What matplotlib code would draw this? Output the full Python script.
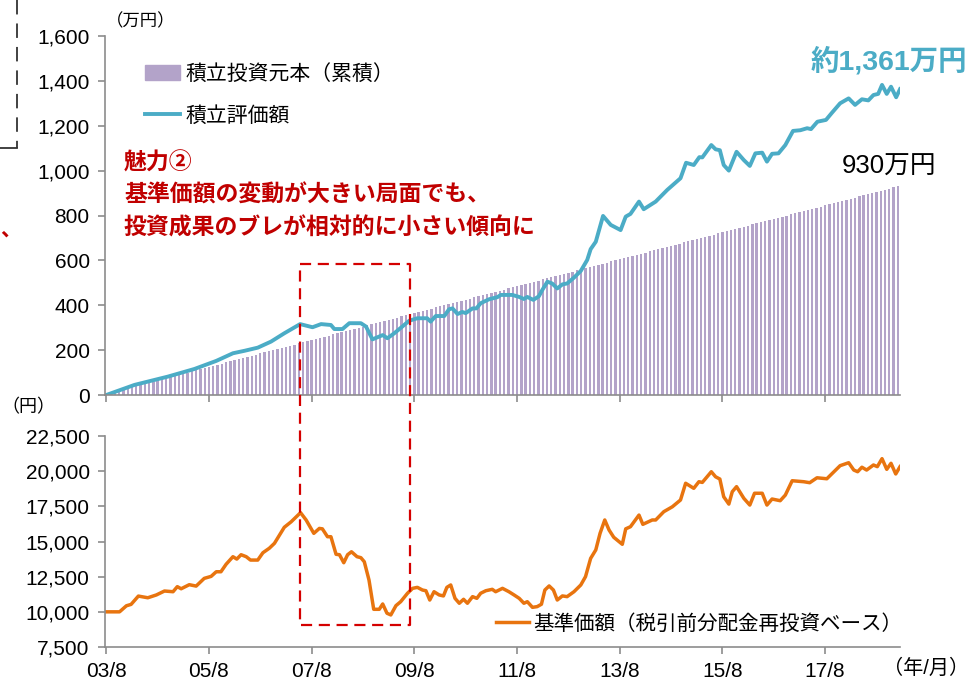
import matplotlib
matplotlib.use("Agg")
import matplotlib.pyplot as plt
from matplotlib.lines import Line2D
from matplotlib.patches import Patch
from matplotlib.ticker import FuncFormatter

plt.rcParams['font.family'] = ['Liberation Sans', 'Noto Sans CJK JP', 'DejaVu Sans']

# ---- data (months counted from 2003/08) ----
principal = [
    5, 10, 15, 20, 25, 30, 35, 40, 45, 50, 55, 60, 65, 70, 75, 80, 85, 90, 95, 100,
    105, 110, 115, 120, 125, 130, 135, 140, 145, 150, 155, 160, 165, 170, 175, 180, 185, 190, 195, 200,
    205, 210, 215, 220, 225, 230, 235, 240, 245, 250, 255, 260, 265, 270, 275, 280, 285, 290, 295, 300,
    305, 310, 315, 320, 325, 330, 335, 340, 345, 350, 355, 360, 365, 370, 375, 380, 385, 390, 395, 400,
    405, 410, 415, 420, 425, 430, 435, 440, 445, 450, 455, 460, 465, 470, 475, 480, 485, 490, 495, 500,
    505, 510, 515, 520, 525, 530, 535, 540, 545, 550, 555, 560, 565, 570, 575, 580, 585, 590, 595, 600,
    605, 610, 615, 620, 625, 630, 635, 640, 645, 650, 655, 660, 665, 670, 675, 680, 685, 690, 695, 700,
    705, 710, 715, 720, 725, 730, 735, 740, 745, 750, 755, 760, 765, 770, 775, 780, 785, 790, 795, 800,
    805, 810, 815, 820, 825, 830, 835, 840, 845, 850, 855, 860, 865, 870, 875, 880, 885, 890, 895, 900,
    905, 910, 915, 920, 925, 930,
]

value_month = [0, 6.6, 14.4, 20.6, 25.7, 29.6, 32.3, 35.4, 38.5, 41.6, 45.3, 48.2, 50.2, 52.5,
               53.3, 55.2, 56.8, 59.5, 60.7, 62.2, 64.6, 65.7, 67.3, 70.8, 72.7, 75, 75.8, 77,
               79, 80.1, 80.9, 82.1, 83.2, 84, 85.6, 86.5, 87.5, 89.5, 91.4, 92.2, 94.9, 96.5,
               97.6, 98.4, 99.8, 101.1, 101.9, 103.1, 104.2, 105.4, 106.6, 107.7, 109.3, 110.9,
               112.4, 113.2, 114.4, 116.1, 117.9, 120.2, 121.4, 122.5, 124.5, 125.6, 128.4,
               131.1, 134.2, 135.5, 137.3, 138.6, 139.3, 141.4, 142.4, 143.4, 144.3, 145.5,
               147.3, 149, 150.4, 151.7, 153.3, 154.4, 155.6, 157.1, 158.7, 160.5, 162.2, 163.8,
               164.7, 166.2, 168.2, 169.6, 171.5, 173.5, 175, 176.6, 178.1, 179.3, 180.4, 181.3,
               182.4, 183.4, 184.6, 185.5]
value_amount = [0, 45, 82, 116, 152, 186, 197, 211, 238, 275, 316, 302, 316, 312,
                294, 294, 320, 320, 305, 248, 267, 253, 275, 331, 342, 342, 327, 352,
                352, 382, 386, 361, 370, 365, 386, 386, 409, 427, 436, 446, 446, 437,
                428, 437, 424, 440, 468, 505, 497, 475, 493, 497, 523, 553,
                602, 650, 683, 798, 758, 735, 795, 807, 862, 828, 862,
                914, 966, 1035, 1025, 1060, 1059, 1114, 1095, 1091, 1025, 1000,
                1084, 1047, 1021, 1077, 1080, 1040, 1075, 1077, 1114, 1177, 1180, 1189,
                1185, 1218, 1226, 1258, 1300, 1322, 1293, 1318, 1313, 1337, 1342, 1382,
                1342, 1374, 1327, 1363]

price_month = [0, 3.1, 4.7, 5.8, 7.5, 9.7, 11.7, 13.6, 15.6, 16.6, 17.5, 19.4, 21, 22.9, 24.5,
               25.7, 26.8, 28, 29.6, 30.5, 31.5, 32.7, 33.7, 35.4, 36.6, 38.1, 39.3, 40.5, 41.6,
               43.2, 45.4, 46.7, 48.5, 49.8, 50.5, 51.7, 52.5, 53.7, 54.5, 55.5, 56.4, 57.3,
               58.6, 59.5, 60.3, 61.4, 62.5, 63.8, 64.6, 65.6, 66.5, 67.7, 68.8, 70.4, 71.6,
               72.7, 73.9, 74.7, 75.6, 76.6, 77.8, 78.8, 79.6, 80.5, 81.5, 82.5, 83.5, 84.4,
               85.6, 86.6, 87.5, 88.7, 90.2, 91, 92.6, 94.1, 95.3, 96.5, 97.6, 98.4, 99.6,
               100.7, 101.7, 102.5, 103.5, 104.5, 105.4, 106.6, 107.7, 109.3, 110.9, 112,
               113.2, 114.4, 115.4, 116.5, 117.5, 118.6, 120.6, 121.4, 122.5, 124.5, 125.4,
               127.6, 128.4, 130.3, 132.3, 134.2, 135.4, 137.3, 138.5, 139.3, 141.4, 142.4,
               143.4, 144.3, 145.5, 146.3, 147.3, 149, 150.4, 151.5, 153.3, 154.4, 155.6,
               157.5, 158.7, 160.3, 163, 164.4, 166.1, 168.4, 171.5, 173.5, 174.7, 175.6,
               176.6, 177.7, 179.3, 180.2, 181.3, 182.4, 183.4, 184.5, 185.5]
price_value = [10000, 10000, 10430, 10530, 11120, 11000, 11200, 11480, 11430, 11790, 11640,
               11930, 11830, 12380, 12520, 12850, 12850, 13380, 13920, 13750, 14060, 13920,
               13680, 13680, 14200, 14520, 14870, 15460, 16010, 16400, 17050, 16530, 15580,
               15930, 15900, 15340, 15340, 14090, 14060, 13490, 14060, 14270, 13920, 13850,
               13560, 12260, 10180, 10180, 10560, 9900, 9780, 10440, 10720, 11320, 11670,
               11740, 11550, 11500, 10840, 11430, 11200, 11130, 11740, 11910, 10960, 10610,
               10890, 10610, 11080, 10960, 11320, 11500, 11600, 11430, 11670, 11430, 11200,
               10960, 10610, 10720, 10320, 10370, 10540, 11550, 11840, 11550, 10840, 11130,
               11080, 11430, 11910, 12500, 13800, 14400, 15580, 16530, 15820, 15300, 14800,
               15900, 16050, 16880, 16220, 16530, 16530, 17120, 17470, 17950, 19140, 18780,
               19250, 19200, 19960, 19600, 19440, 18180, 17660, 18540, 18900, 18070, 17590,
               18430, 18430, 17590, 18020, 17900, 18300, 19320, 19250, 19180, 19530, 19460,
               20390, 20600, 20080, 19960, 20280, 20080, 20440, 20320, 20890, 20130, 20560,
               19800, 20320]

tick_months = [0, 24, 48, 72, 96, 120, 144, 168]
tick_labels = ['03/8', '05/8', '07/8', '09/8', '11/8', '13/8', '15/8', '17/8']

BAR_C = '#b3a3c9'
TEAL = '#4bacc6'
ORANGE = '#e8740f'
RED = '#c00000'
GRAY = '#8c8c8c'

W, H = 974, 680


def fx(px):
    return px / W


def fy(py):
    return 1 - py / H


fig = plt.figure(figsize=(W / 100, H / 100), dpi=100)
ax1 = fig.add_axes([fx(105), fy(395), 795 / W, 359 / H])
ax2 = fig.add_axes([fx(105), fy(647), 795 / W, 211 / H])

ax1.bar(range(len(principal)), principal, width=0.55, color=BAR_C, linewidth=0)
ax1.plot(value_month, value_amount, color=TEAL, lw=2.8, solid_joinstyle='round')
ax2.plot(price_month, price_value, color=ORANGE, lw=2.5, solid_joinstyle='round')

comma = FuncFormatter(lambda v, p: f'{v:,.0f}')
for ax in (ax1, ax2):
    ax.set_xlim(-0.3, 185.5)
    for s in ('top', 'right'):
        ax.spines[s].set_visible(False)
    for s in ('left', 'bottom'):
        ax.spines[s].set_color(GRAY)
        ax.spines[s].set_linewidth(1.2)
    ax.set_xticks(tick_months)
    ax.tick_params(direction='out', length=5, width=1.2, color=GRAY,
                   labelsize=15, pad=6)
    ax.yaxis.set_major_formatter(comma)

ax1.set_ylim(0, 1600)
ax1.set_yticks(range(0, 1601, 200))
ax1.set_xticklabels([])
ax2.set_ylim(7500, 22500)
ax2.set_yticks(range(7500, 22501, 2500))
ax2.set_xticklabels(tick_labels)

# legends
h1 = [Patch(color=BAR_C), Line2D([], [], color=TEAL, lw=2.8)]
ax1.legend(h1, ['積立投資元本（累積）', '積立評価額'], loc='upper left',
           bbox_to_anchor=(fx(145), fy(64)), bbox_transform=fig.transFigure,
           frameon=False, fontsize=15, handlelength=1.7, handletextpad=0.25,
           labelspacing=1.05, borderpad=0, borderaxespad=0)
ax2.legend([Line2D([], [], color=ORANGE, lw=2.5)], ['基準価額（税引前分配金再投資ベース）'],
           loc='upper left', bbox_to_anchor=(fx(496), fy(614)),
           bbox_transform=fig.transFigure, frameon=False, fontsize=14.8,
           handlelength=1.6, handletextpad=0.2, borderpad=0, borderaxespad=0)

# texts
fig.text(fx(106), fy(21), '（万円）', fontsize=12.5, va='center')
fig.text(fx(1), fy(408), '（円）', fontsize=13, va='center')
fig.text(fx(883), fy(668), '（年/月）', fontsize=14.5, va='center')
fig.text(fx(811), fy(61), '約1,361万円', fontsize=20.5, color=TEAL,
         fontweight='bold', va='center')
fig.text(fx(842), fy(167), '930万円', fontsize=18.5, color='black', va='center')
fig.text(fx(124), fy(163), '魅力②', fontsize=16.5, color=RED, fontweight='bold', va='center')
fig.text(fx(124), fy(195), '基準価額の変動が大きい局面でも、', fontsize=16.5, color=RED,
         fontweight='bold', va='center')
fig.text(fx(124), fy(228), '投資成果のブレが相対的に小さい傾向に', fontsize=16.5, color=RED,
         fontweight='bold', va='center')
fig.text(fx(0), fy(230), '、', fontsize=15, color=RED, fontweight='bold', va='center')

# clipped callout border at the left edge
fig.add_artist(Line2D([fx(17), fx(17)], [fy(0), fy(148)], color='#333333', lw=1.3,
                      dashes=(8, 5), transform=fig.transFigure))
fig.add_artist(Line2D([fx(0), fx(17)], [fy(148), fy(148)], color='#333333', lw=1.3,
                      transform=fig.transFigure))

# red dashed box spanning both panels
box_months = (45.3, 71.0)
box_top = 584
box_bottom = 9060
to_fig = fig.transFigure.inverted()
x0, y0 = to_fig.transform(ax1.transData.transform((box_months[0], box_top)))
x1, _ = to_fig.transform(ax1.transData.transform((box_months[1], box_top)))
_, y1 = to_fig.transform(ax2.transData.transform((box_months[0], box_bottom)))
fig.add_artist(Line2D([x0, x1, x1, x0, x0], [y0, y0, y1, y1, y0], color='#d40000',
                      lw=1.6, dashes=(5, 3), transform=fig.transFigure))

fig.savefig('out.png', dpi=100)
